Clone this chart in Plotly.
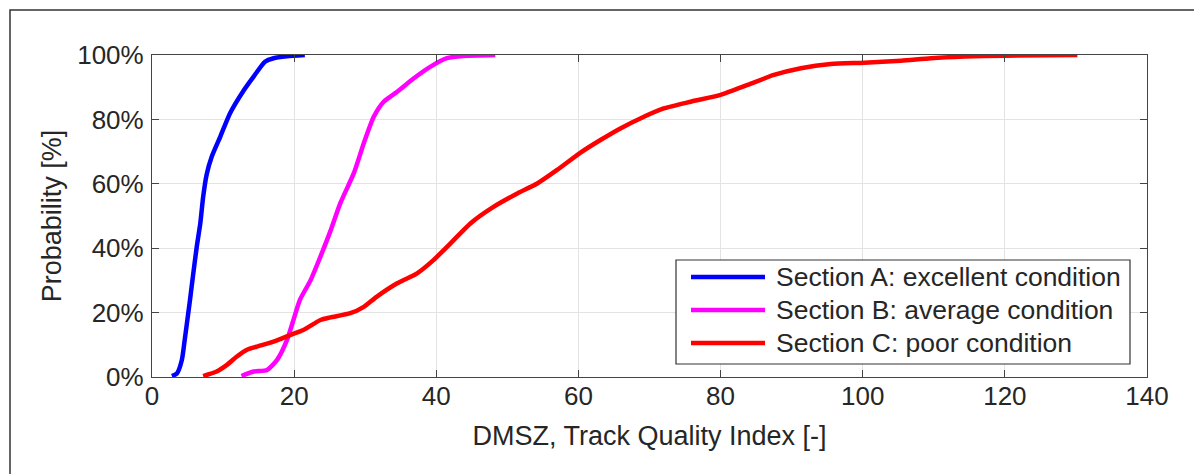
import plotly.graph_objects as go

# Section A: excellent condition
a_x = [2.8, 3.5, 4.2, 4.6, 5.35, 5.8, 6.3, 6.8, 7.2, 7.7, 8.4, 9.6, 11.0, 12.9, 14.3, 15.9, 17.1, 19.0, 21.5]
a_y = [0.3, 1.1, 5.3, 11.5, 24.0, 32.0, 40.5, 47.8, 56.0, 63.0, 68.4, 74.6, 82.0, 89.0, 93.3, 97.9, 99.0, 99.6, 100.0]

# Section B: average condition
b_x = [12.6, 14.3, 16.2, 17.6, 19.0, 19.9, 20.8, 22.3, 23.7, 25.1, 26.5, 28.4, 29.8, 31.2, 32.6, 34.5,
       36.8, 39.2, 41.5, 43.8, 48.3]
b_y = [0.3, 1.7, 2.2, 5.3, 11.5, 17.7, 23.9, 30.0, 37.4, 45.3, 54.0, 63.3, 72.6, 80.8, 85.5, 88.6,
       92.7, 96.4, 99.0, 99.7, 100.0]

# Section C: poor condition
c_x = [7.2, 9.1, 10.5, 11.9, 13.3, 14.7, 17.1, 19.4, 21.3, 23.7, 25.1, 27.9, 29.8, 31.6, 34.5, 37.3,
       39.6, 42.0, 44.8, 48.1, 51.4, 54.2, 57.0, 60.3, 63.1, 65.9, 68.7, 72.0, 75.8, 80.0, 83.8, 87.5,
       91.3, 95.5, 100.2, 105.4, 109.6, 114.3, 119.9, 130.2]
c_y = [0.3, 1.7, 3.7, 6.3, 8.4, 9.4, 11.0, 13.0, 14.6, 17.7, 18.5, 19.8, 21.8, 24.9, 29.1, 32.2,
       36.3, 41.5, 47.7, 52.9, 57.0, 60.1, 64.3, 69.7, 73.6, 77.2, 80.3, 83.4, 85.5, 87.6, 90.7, 93.8,
       95.9, 97.2, 97.6, 98.2, 99.0, 99.5, 99.8, 100.0]

names = ["Section A: excellent condition", "Section B: average condition", "Section C: poor condition"]
colors = ["#0000FF", "#FF00FF", "#FF0000"]

x_ticks = [0, 20, 40, 60, 80, 100, 120, 140]
y_ticks = [0, 20, 40, 60, 80, 100]
y_labels = ["0%", "20%", "40%", "60%", "80%", "100%"]

FONT = "Liberation Sans, Arial, sans-serif"
TXT = "#262626"

W, H = 1194, 474
L, R, T, B = 152, 47, 55, 97
pw, ph = W - L - R, H - T - B

def px2x(p):
    return (p - L) / pw

def py2y(p):
    return (H - B - p) / ph

fig = go.Figure()
for xs, ys, nm, col in zip([a_x, b_x, c_x], [a_y, b_y, c_y], names, colors):
    fig.add_trace(go.Scatter(x=xs, y=ys, name=nm, mode="lines", showlegend=False,
                             line=dict(color=col, width=4.5, shape="spline", smoothing=0.6)))

fig.update_layout(
    width=W, height=H,
    margin=dict(l=L, r=R, t=T, b=B),
    paper_bgcolor="white", plot_bgcolor="white",
    font=dict(family=FONT, size=26, color=TXT),
    xaxis=dict(range=[0, 140], tickvals=x_ticks, ticks="inside", ticklen=7,
               tickcolor="#444444", showline=True, linecolor="#444444", linewidth=1.2,
               mirror="ticks", showgrid=True, gridcolor="#e3e3e3", gridwidth=1,
               zeroline=False, tickfont=dict(size=26, color=TXT), ticklabelstandoff=-4,
               title=dict(text="DMSZ, Track Quality Index [-]", font=dict(size=27, color=TXT), standoff=15)),
    yaxis=dict(range=[0, 100], tickvals=y_ticks, ticktext=y_labels, ticks="inside", ticklen=7,
               tickcolor="#444444", showline=True, linecolor="#444444", linewidth=1.2,
               mirror="ticks", showgrid=True, gridcolor="#e3e3e3", gridwidth=1,
               zeroline=False, tickfont=dict(size=26, color=TXT), ticklabelstandoff=2,
               title=dict(text="Probability [%]", font=dict(size=27, color=TXT), standoff=7)),
)

# outer figure frame (top and left edges visible)
fig.add_shape(type="rect", xref="paper", yref="paper",
              x0=px2x(10), x1=px2x(1210), y0=py2y(490), y1=py2y(10),
              line=dict(color="#333333", width=1.5), fillcolor="rgba(0,0,0,0)", layer="below")

# legend box drawn in the MATLAB style
fig.add_shape(type="rect", xref="paper", yref="paper",
              x0=px2x(676), x1=px2x(1130), y0=py2y(364), y1=py2y(260),
              line=dict(color="#333333", width=1.2), fillcolor="white", layer="above")
leg_y = [277, 310, 343]
for nm, col, yy in zip(names, colors, leg_y):
    fig.add_shape(type="line", xref="paper", yref="paper",
                  x0=px2x(691), x1=px2x(765), y0=py2y(yy), y1=py2y(yy),
                  line=dict(color=col, width=4.5), layer="above")
    fig.add_annotation(xref="paper", yref="paper", x=px2x(774), y=py2y(yy),
                       xanchor="left", yanchor="middle", text=nm, showarrow=False,
                       font=dict(size=26.5, color=TXT, family=FONT))

fig.write_html("out.html", config={"displayModeBar": False},
               post_script="document.body.style.margin='0';document.body.style.overflow='hidden';")
